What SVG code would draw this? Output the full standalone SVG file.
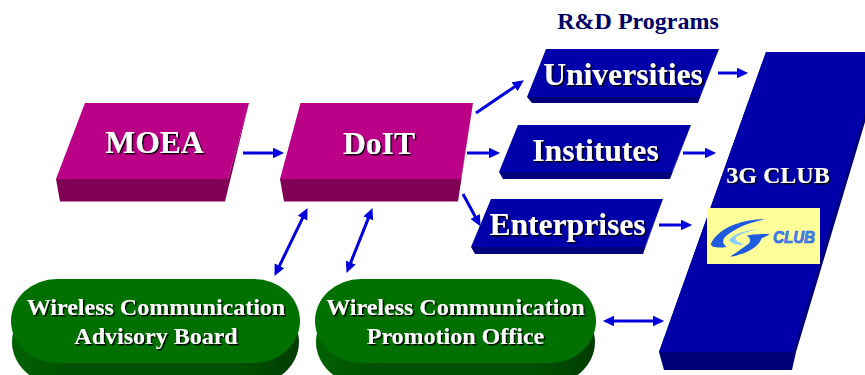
<svg xmlns="http://www.w3.org/2000/svg" width="865" height="375" viewBox="0 0 865 375">
  <style>
    text { font-family: "Liberation Serif", "Times New Roman", serif; font-weight: bold; text-anchor: middle; }
    .lbl { fill: #fff; filter: url(#ts); }
    .big { font-size: 31.6px; }
    .mid { font-size: 24px; }
    .mTop { fill: #bb0088; }
    .mSide { fill: #7f0055; }
    .bTop { fill: #0000aa; }
    .bSide { fill: #00007a; }
    .gTop { fill: #007000; }
    .gSide { fill: url(#gs); }
    .conn { fill: none; stroke: #0000dd; stroke-width: 3; }
    .one { marker-end: url(#ah); }
    .two { marker-start: url(#ah); marker-end: url(#ah); }
  </style>
  <defs>
    <filter id="ts" x="-10%" y="-20%" width="120%" height="140%">
      <feDropShadow dx="1.4" dy="1.4" stdDeviation="0.3" flood-color="#000" flood-opacity="1"/>
    </filter>
    <linearGradient id="gs" x1="0" y1="0" x2="1" y2="0">
      <stop offset="0" stop-color="#006200"/>
      <stop offset="0.2" stop-color="#005000"/>
      <stop offset="0.8" stop-color="#005000"/>
      <stop offset="1" stop-color="#003c00"/>
    </linearGradient>
    <marker id="ah" markerUnits="userSpaceOnUse" markerWidth="12" markerHeight="12" viewBox="0 0 10 10" refX="3.5" refY="5" orient="auto-start-reverse">
      <path d="M0,0.6 L9.5,5 L0,9.4 Z" fill="#0000dd"/>
    </marker>
  </defs>

  <g id="connectors">
    <line class="conn one" x1="243" y1="153" x2="277" y2="153"/>
    <line class="conn one" x1="476" y1="113" x2="518" y2="84.4"/>
    <line class="conn one" x1="467" y1="153" x2="493" y2="153"/>
    <line class="conn one" x1="463" y1="194" x2="477.2" y2="220.2"/>
    <line class="conn one" x1="718" y1="73" x2="741" y2="73"/>
    <line class="conn one" x1="683" y1="153" x2="709" y2="153"/>
    <line class="conn one" x1="659" y1="225" x2="685" y2="225"/>
    <line class="conn two" x1="304.4" y1="214.4" x2="277.6" y2="269.6"/>
    <line class="conn two" x1="369.8" y1="214.6" x2="349.2" y2="266.4"/>
    <line class="conn two" x1="610" y1="321" x2="657" y2="321"/>
  </g>

  <text x="638" y="29" class="mid" fill="#000066">R&amp;D Programs</text>

  <g id="moea">
    <polygon class="mSide" points="56,179 60,201.5 225,201.5 249,103 228,179"/>
    <polygon class="mTop" points="85,103 249,103 228,179 56,179"/>
    <text x="154.5" y="153" class="lbl big">MOEA</text>
  </g>

  <g id="doit">
    <polygon class="mSide" points="280,179 284,201.5 458,201.5 473,103 461,179"/>
    <polygon class="mTop" points="300.5,103 473,103 461,179 280,179"/>
    <text x="379" y="154" class="lbl big">DoIT</text>
  </g>

  <g id="universities">
    <polygon class="bSide" points="527,97 532,103 698,103 719,49 700,97"/>
    <polygon class="bTop" points="546,49 719,49 700,97 527,97"/>
    <text x="623" y="85" class="lbl big">Universities</text>
  </g>

  <g id="institutes">
    <polygon class="bSide" points="499,172 503,179 670,179 691,125 672,172"/>
    <polygon class="bTop" points="518,125 691,125 672,172 499,172"/>
    <text x="595.5" y="161" class="lbl big">Institutes</text>
  </g>

  <g id="enterprises">
    <polygon class="bSide" points="471,247 475,254 643,254 663,199 645,247"/>
    <polygon class="bTop" points="491,199 663,199 645,247 471,247"/>
    <text x="567.5" y="235" class="lbl big">Enterprises</text>
  </g>

  <g id="club">
    <polygon class="bSide" points="659,352 664,370 792,370 796,352 886,52 766,52"/>
    <polygon class="bTop" points="766,52 883,52 792.5,352 659,352"/>
    <text x="778" y="183" class="lbl mid">3G CLUB</text>
    <rect x="707" y="208" width="113" height="56" fill="#ffff99"/>
    <g transform="translate(705 205) scale(0.3333)">
      <path fill="#1f5ae0" d="M180,43 C125,42 45,62 18,115 C16,128 40,130 65,126 C50,115 50,100 70,88 C95,68 135,52 180,43Z"/>
      <path fill="#1f5ae0" d="M75,155 C115,150 160,130 170,100 L195,88 C170,85 140,88 125,92 C140,100 140,115 118,125 C105,135 90,145 75,155Z"/>
      <path fill="#88ccf5" d="M165,72 C130,75 85,85 72,105 C80,118 105,122 120,118 C100,112 85,105 95,95 C110,85 135,78 165,72Z"/>
    </g>
    <text x="794" y="243" font-size="17" textLength="42" lengthAdjust="spacingAndGlyphs" fill="#4a86f0" stroke="#1f5ae0" stroke-width="0.7" style="font-family:'Liberation Sans',Arial,sans-serif;font-style:italic">CLUB</text>
  </g>

  <g id="advisory-board">
    <rect class="gSide" x="12" y="300" width="287" height="84" rx="46" ry="42"/>
    <rect class="gTop" x="11" y="279" width="289" height="84" rx="46" ry="42"/>
    <text x="156" y="315" class="lbl mid">Wireless Communication</text>
    <text x="156" y="344" class="lbl mid">Advisory Board</text>
  </g>

  <g id="promotion-office">
    <rect class="gSide" x="316" y="300" width="279" height="84" rx="46" ry="42"/>
    <rect class="gTop" x="315" y="279" width="281" height="84" rx="46" ry="42"/>
    <text x="455.5" y="315" class="lbl mid">Wireless Communication</text>
    <text x="455.5" y="344" class="lbl mid">Promotion Office</text>
  </g>
</svg>
